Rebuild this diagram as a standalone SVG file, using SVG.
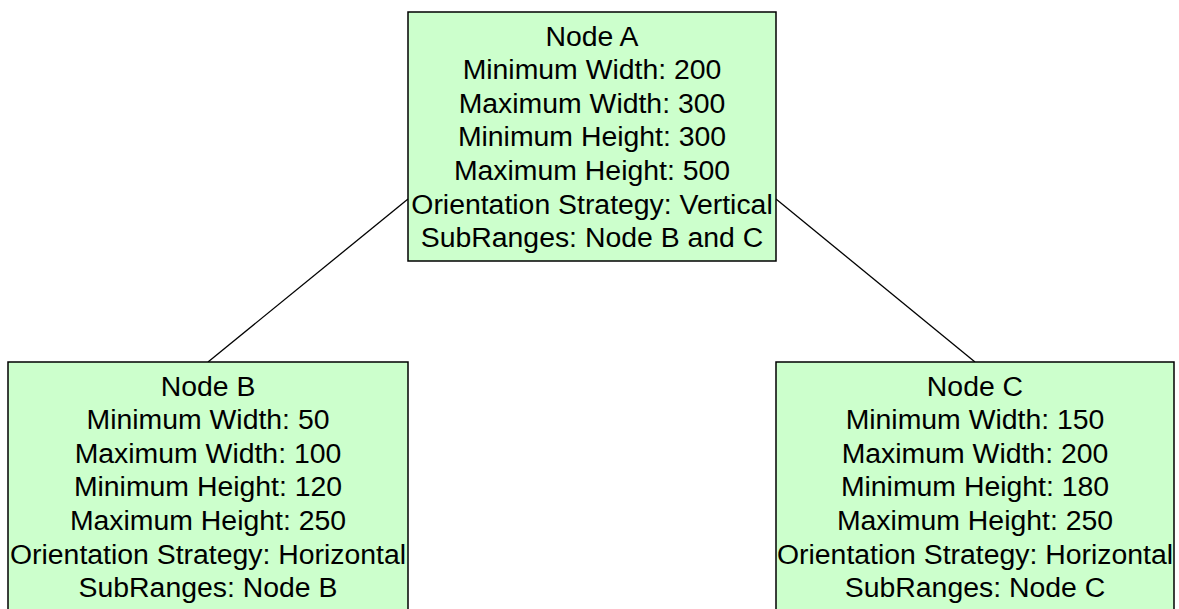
<svg xmlns="http://www.w3.org/2000/svg" width="1179" height="609" viewBox="0 0 1179 609">
  <style>
    .box { fill: #ccffcc; stroke: #000000; stroke-width: 1.5; }
    .label { font-family: "Liberation Sans", Arial, sans-serif; font-size: 28.4px; fill: #000000; text-anchor: middle; }
    .edge { stroke: #000000; stroke-width: 1.3; fill: none; }
  </style>
  <rect width="1179" height="609" fill="#ffffff"/>

  <!-- connectors -->
  <g id="connectors">
    <line class="edge" x1="408" y1="199" x2="208" y2="362"/>
    <line class="edge" x1="776" y1="199" x2="975" y2="362"/>
  </g>

  <!-- parent range -->
  <g id="node-a">
    <rect class="box" x="408" y="12" width="368" height="249"/>
    <text class="label" x="592" y="45.6">Node A</text>
    <text class="label" x="592" y="79.2">Minimum Width: 200</text>
    <text class="label" x="592" y="112.8">Maximum Width: 300</text>
    <text class="label" x="592" y="146.4">Minimum Height: 300</text>
    <text class="label" x="592" y="180">Maximum Height: 500</text>
    <text class="label" x="592" y="213.6">Orientation Strategy: Vertical</text>
    <text class="label" x="592" y="247.2">SubRanges: Node B and C</text>
  </g>

  <!-- left child range -->
  <g id="node-b">
    <rect class="box" x="8" y="362" width="400" height="249"/>
    <text class="label" x="208" y="395.6">Node B</text>
    <text class="label" x="208" y="429.2">Minimum Width: 50</text>
    <text class="label" x="208" y="462.8">Maximum Width: 100</text>
    <text class="label" x="208" y="496.4">Minimum Height: 120</text>
    <text class="label" x="208" y="530">Maximum Height: 250</text>
    <text class="label" x="208" y="563.6">Orientation Strategy: Horizontal</text>
    <text class="label" x="208" y="597.2">SubRanges: Node B</text>
  </g>

  <!-- right child range -->
  <g id="node-c">
    <rect class="box" x="776" y="362" width="398" height="249"/>
    <text class="label" x="975" y="395.6">Node C</text>
    <text class="label" x="975" y="429.2">Minimum Width: 150</text>
    <text class="label" x="975" y="462.8">Maximum Width: 200</text>
    <text class="label" x="975" y="496.4">Minimum Height: 180</text>
    <text class="label" x="975" y="530">Maximum Height: 250</text>
    <text class="label" x="975" y="563.6">Orientation Strategy: Horizontal</text>
    <text class="label" x="975" y="597.2">SubRanges: Node C</text>
  </g>
</svg>
